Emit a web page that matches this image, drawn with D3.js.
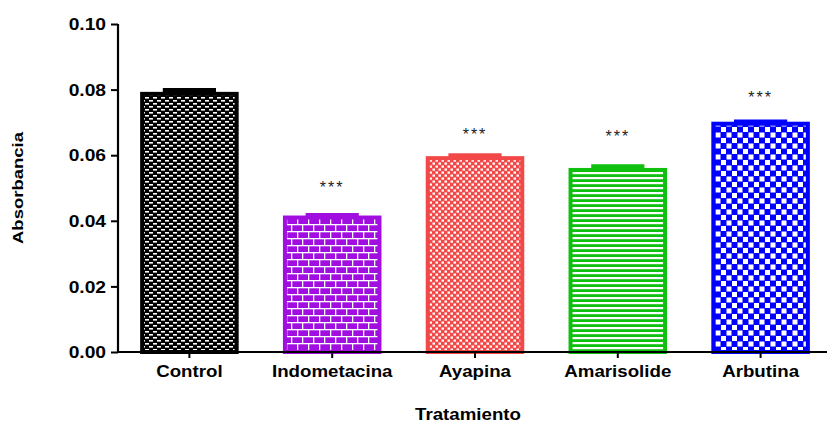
<!DOCTYPE html>
<html>
<head>
<meta charset="utf-8">
<script src="https://cdn.jsdelivr.net/npm/d3@7"></script>
<style>
  html, body { margin: 0; padding: 0; background: #fff; }
  svg { display: block; font-family: "Liberation Sans", Arial, sans-serif; }
</style>
</head>
<body>
<svg id="chart" width="827" height="425"></svg>
<script>
// Absorbance per treatment (mean ± SEM)
const categories = ["Control", "Indometacina", "Ayapina", "Amarisolide", "Arbutina"];
const means = [0.0787, 0.0410, 0.0591, 0.0555, 0.0696];
const sems  = [0.0012, 0.0008, 0.0009, 0.0011, 0.0007];
const significance = ["", "***", "***", "***", "***"];
const starLevels = [null, 0.0485, 0.0646, 0.0640, 0.0760];
const yTicks = [0.00, 0.02, 0.04, 0.06, 0.08, 0.10];
const colors = ["#000000", "#a00ee0", "#f24848", "#10c010", "#0000ff"];
const fills = ["pat-dense", "pat-brick", "pat-grid", "pat-stripe", "pat-checker"];

const svg = d3.select("#chart");
const margin = { left: 118, top: 24, bottom: 73 };
const W = 827, H = 425;

const x = d3.scaleBand().domain(categories)
  .range([margin.left, 832]).paddingInner(0.31).paddingOuter(0.155);
const y = d3.scaleLinear().domain([0, 0.10]).range([H - margin.bottom, margin.top]);

// Fill patterns
const defs = svg.append("defs");
function pattern(id, w, h, bg) {
  const p = defs.append("pattern").attr("id", id).attr("patternUnits", "userSpaceOnUse")
    .attr("width", w).attr("height", h);
  p.append("rect").attr("width", w).attr("height", h).attr("fill", bg);
  return p;
}
// small staggered white dashes on black
{
  const p = pattern("pat-dense", 8, 6, colors[0]);
  p.append("rect").attr("x", 1).attr("y", 1).attr("width", 4).attr("height", 1.6).attr("fill", "#fff");
  p.append("rect").attr("x", 5).attr("y", 4).attr("width", 4).attr("height", 1.6).attr("fill", "#fff");
  p.append("rect").attr("x", -3).attr("y", 4).attr("width", 4).attr("height", 1.6).attr("fill", "#fff");
}
// brick
{
  const p = pattern("pat-brick", 22, 14, colors[1]);
  p.append("rect").attr("x", 0).attr("y", 0).attr("width", 22).attr("height", 1.3).attr("fill", "#fff");
  p.append("rect").attr("x", 0).attr("y", 7).attr("width", 22).attr("height", 1.3).attr("fill", "#fff");
  p.append("rect").attr("x", 5).attr("y", 0).attr("width", 1.3).attr("height", 7).attr("fill", "#fff");
  p.append("rect").attr("x", 16).attr("y", 0).attr("width", 1.3).attr("height", 7).attr("fill", "#fff");
  p.append("rect").attr("x", 0).attr("y", 7).attr("width", 1.3).attr("height", 7).attr("fill", "#fff");
  p.append("rect").attr("x", 11).attr("y", 7).attr("width", 1.3).attr("height", 7).attr("fill", "#fff");
}
// fine grid of white squares
{
  const p = pattern("pat-grid", 6, 6, colors[2]);
  p.append("rect").attr("x", 0.5).attr("y", 0.5).attr("width", 2.5).attr("height", 2.2).attr("fill", "#fff");
  p.append("rect").attr("x", 3.5).attr("y", 3.5).attr("width", 2.5).attr("height", 2.2).attr("fill", "#fff");
}
// horizontal stripes
{
  const p = pattern("pat-stripe", 10, 5, colors[3]);
  p.append("rect").attr("x", 0).attr("y", 2).attr("width", 10).attr("height", 2.2).attr("fill", "#fff");
}
// checkerboard
{
  const p = pattern("pat-checker", 11, 11, colors[4]);
  p.append("rect").attr("x", 0.5).attr("y", 0.5).attr("width", 5).attr("height", 5).attr("fill", "#fff");
  p.append("rect").attr("x", 6).attr("y", 6).attr("width", 5).attr("height", 5).attr("fill", "#fff");
}

const data = categories.map((c, i) => ({
  cat: c, mean: means[i], sem: sems[i], sig: significance[i], star: starLevels[i],
  color: colors[i], fill: fills[i]
}));

// Bars
const bw = x.bandwidth();
svg.append("g").selectAll("rect").data(data).join("rect")
  .attr("x", d => x(d.cat) + 2)
  .attr("y", d => y(d.mean))
  .attr("width", bw - 4)
  .attr("height", d => y(0) - y(d.mean))
  .attr("fill", d => `url(#${d.fill})`)
  .attr("stroke", d => d.color)
  .attr("stroke-width", 4);

// Error bars (upper whisker)
const eb = svg.append("g");
eb.selectAll("line.v").data(data).join("line").attr("class", "v")
  .attr("x1", d => x(d.cat) + bw / 2).attr("x2", d => x(d.cat) + bw / 2)
  .attr("y1", d => y(d.mean)).attr("y2", d => y(d.mean + d.sem))
  .attr("stroke", d => d.color).attr("stroke-width", 3);
eb.selectAll("line.cap").data(data).join("line").attr("class", "cap")
  .attr("x1", d => x(d.cat) + bw * 0.23).attr("x2", d => x(d.cat) + bw * 0.77)
  .attr("y1", d => y(d.mean + d.sem)).attr("y2", d => y(d.mean + d.sem))
  .attr("stroke", d => d.color).attr("stroke-width", 4);

// Significance marks
svg.append("g").selectAll("text").data(data.filter(d => d.sig)).join("text")
  .attr("x", d => x(d.cat) + bw / 2)
  .attr("y", d => y(d.star))
  .attr("text-anchor", "middle")
  .attr("font-size", 16)
  .attr("letter-spacing", 2)
  .attr("fill", "#222")
  .text(d => d.sig);

// Axes
const yAxis = svg.append("g").attr("transform", `translate(${margin.left},0)`)
  .call(d3.axisLeft(y).tickValues(yTicks).tickFormat(d3.format(".2f")).tickSize(7).tickSizeOuter(0));
yAxis.select(".domain").attr("stroke-width", 2.2).attr("d", `M0,${y(0.10)}V${y(0) + 1}`);
yAxis.selectAll(".tick line").attr("stroke-width", 2);
yAxis.selectAll(".tick text").attr("font-size", 16).attr("font-weight", "bold").attr("fill", "#000")
  .attr("x", -12).attr("dy", "0.36em")
  .each(function() { const l = this.getComputedTextLength(); d3.select(this).attr("textLength", l * 1.2).attr("lengthAdjust", "spacingAndGlyphs"); });

const xAxis = svg.append("g").attr("transform", `translate(0,${y(0)})`)
  .call(d3.axisBottom(x).tickSize(6).tickSizeOuter(0));
xAxis.select(".domain").attr("stroke-width", 2.2).attr("d", `M${margin.left - 1},0H${W}`);
xAxis.selectAll(".tick line").attr("stroke-width", 2);
xAxis.selectAll(".tick text").attr("font-size", 17).attr("font-weight", "bold").attr("fill", "#000")
  .attr("y", 13).attr("dy", "0.71em")
  .each(function() { const l = this.getComputedTextLength(); d3.select(this).attr("textLength", l * 1.1).attr("lengthAdjust", "spacingAndGlyphs"); });

// Axis titles
const yt = svg.append("text")
  .attr("transform", `translate(23,${(y(0.10) + y(0)) / 2}) rotate(-90)`)
  .attr("text-anchor", "middle")
  .attr("font-size", 15)
  .attr("font-weight", "bold")
  .attr("fill", "#000")
  .text("Absorbancia");
yt.attr("textLength", 112).attr("lengthAdjust", "spacingAndGlyphs");

const xt = svg.append("text")
  .attr("x", 468).attr("y", 420)
  .attr("text-anchor", "middle")
  .attr("font-size", 17)
  .attr("font-weight", "bold")
  .attr("fill", "#000")
  .text("Tratamiento");
xt.attr("textLength", 106).attr("lengthAdjust", "spacingAndGlyphs");
</script>
</body>
</html>
